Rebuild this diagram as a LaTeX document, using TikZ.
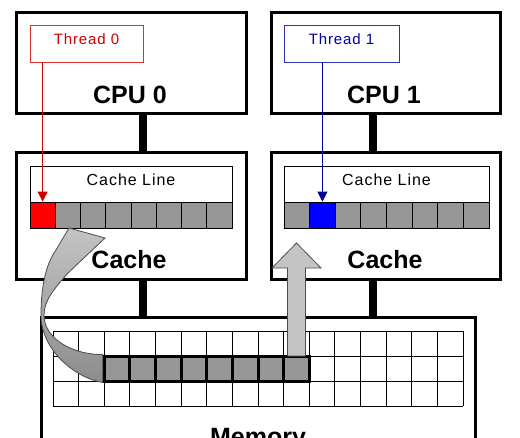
\documentclass[tikz,border=0pt]{standalone}
\usepackage{fontspec}
\setmainfont{Liberation Sans}
\newfontfamily\spacedfont[LetterSpace=6]{Liberation Sans}
\usetikzlibrary{arrows.meta,calc}
\definecolor{cellgray}{HTML}{969696}
\definecolor{arrowgray}{HTML}{C4C4C4}
\definecolor{arrowdark}{HTML}{8C8C8C}
\definecolor{thrred}{HTML}{CC0000}
\definecolor{thrblue}{HTML}{000099}
\begin{document}
\begin{tikzpicture}[x=1pt,y=-1pt,
  bigbox/.style={draw,line width=3pt,inner sep=0pt,minimum width=#1},
  thrbox/.style={draw,line width=0.9pt,inner sep=0pt,minimum height=37pt,text height=11pt,text depth=9pt,font=\spacedfont\fontsize{15}{17}\selectfont},
  linebox/.style={draw,line width=0.9pt,inner sep=0pt,minimum height=36pt,text height=12pt,text depth=10pt,font=\spacedfont\fontsize{16}{18}\selectfont},
  bigtext/.style={font=\fontsize{25}{30}\selectfont\bfseries,inner sep=0pt},
  cell/.style={draw,line width=0.8pt,fill=cellgray,inner sep=0pt,minimum height=26pt,minimum width=#1},
  memcell/.style={draw,line width=3pt,fill=cellgray,inner sep=0pt,minimum height=25pt,minimum width=25.625pt},
  bus/.style={line width=8pt,black},
  blockarrow/.style={draw=black!70,line width=0.8pt,fill=arrowgray},
  ptr/.style={line width=0.9pt,-{Triangle[width=10pt,length=10pt]}}
]
\useasboundingbox (0,0) rectangle (520,437);

% CPU boxes
\node[bigbox=230pt,minimum height=101pt] (cpu0) at (131,62.5) {};
\node[bigbox=229pt,minimum height=101pt] (cpu1) at (385.5,62.5) {};
\node[bigtext] (cpu0t) at (130,95) {CPU 0};
\node[bigtext] (cpu1t) at (384,95) {CPU 1};

% thread boxes
\node[thrbox,draw=thrred!80,text=thrred,minimum width=113pt] (t0) at (86.5,43.5) {Thread 0};
\node[thrbox,draw=thrblue!80,text=thrblue,minimum width=115pt] (t1) at (341.5,43.5) {Thread 1};

% cache boxes
\node[bigbox=230pt,minimum height=127pt] (cache0) at (131,215.5) {};
\node[bigbox=229pt,minimum height=127pt] (cache1) at (385.5,215.5) {};
\node[bigtext] (cache0t) at (129,260) {Cache};
\node[bigtext] (cache1t) at (385,260) {Cache};

% cache lines
\node[linebox,minimum width=202pt] (cl0) at (131,184) {Cache Line};
\node[linebox,minimum width=205pt] (cl1) at (386.5,184) {Cache Line};
\foreach \i in {0,...,7} {
  \node[cell=25.25pt] (c0-\i) at ({30+25.25*(\i+0.5)},215) {};
  \node[cell=25.625pt] (c1-\i) at ({284+25.625*(\i+0.5)},215) {};
}
\node[cell=25.25pt,fill=red] at (c0-0) {};
\node[cell=25.625pt,fill=blue] at (c1-1) {};

% memory box
\node[bigbox=434pt,minimum height=146pt] (mem) at (258,390) {};
\node[bigtext,anchor=base] (memt) at (258,445) {Memory};

% memory grid
\foreach \i in {0,...,16}
  \draw[line width=0.9pt] ({53+25.625*\i},331) -- ({53+25.625*\i},406);
\foreach \j in {0,...,3}
  \draw[line width=0.9pt] (53,{331+25*\j}) -- (463,{331+25*\j});
\foreach \i in {2,...,9}
  \node[memcell] (m-\i) at ({53+25.625*(\i+0.5)},368.5) {};

% buses
\coordinate (b0) at (143,0);
\coordinate (b1) at (373,0);
\draw[bus] (b0 |- cpu0.south) -- (b0 |- cache0.north);
\draw[bus] (b1 |- cpu1.south) -- (b1 |- cache1.north);
\draw[bus] (b0 |- cache0.south) -- (b0 |- mem.north);
\draw[bus] (b1 |- cache1.south) -- (b1 |- mem.north);

% thread pointers
\draw[ptr,thrred] (t0.south -| c0-0.north) -- (c0-0.north);
\draw[ptr,thrblue] (t1.south -| c1-1.north) -- (c1-1.north);

% curved block arrow (memory -> cache 0)
\draw[draw=black!70,line width=0.8pt,top color=arrowgray,bottom color=arrowdark]
  (69,228) -- (105,238) -- (68,273)
  .. controls (55,288) and (44,300) .. (44,315)
  .. controls (44,340) and (75,355) .. (m-2.north west)
  -- (m-2.south west)
  .. controls (75,378) and (41,350) .. (41,315)
  .. controls (41,290) and (45,265) .. (56,250)
  -- cycle;

% straight block arrow (memory -> cache 1)
\draw[blockarrow] (287.5,356) -- (287.5,268) -- (272,268) -- (296.5,243)
  -- (321,268) -- (305.5,268) -- (305.5,356) -- cycle;
\end{tikzpicture}
\end{document}
